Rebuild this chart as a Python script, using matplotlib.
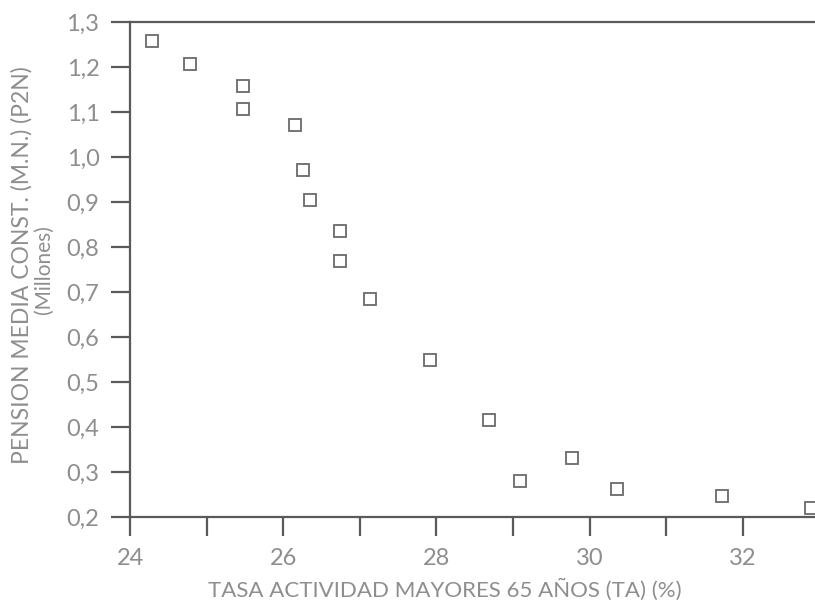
import matplotlib.pyplot as plt
from matplotlib.ticker import FixedLocator, FuncFormatter

# datos
tasaActividad = [24.29, 24.78, 25.47, 25.47, 26.15, 26.26, 26.35, 26.74, 26.74,
                 27.13, 27.92, 28.69, 29.09, 29.77, 30.36, 31.73, 32.89]
pensionMedia = [1.258, 1.207, 1.158, 1.107, 1.071, 0.971, 0.904, 0.836, 0.769,
                0.684, 0.549, 0.416, 0.280, 0.331, 0.262, 0.247, 0.220]

xTicks = [24, 26, 28, 30, 32]
xMinor = [25, 27, 29, 31]
yTicks = [0.2, 0.3, 0.4, 0.5, 0.6, 0.7, 0.8, 0.9, 1.0, 1.1, 1.2, 1.3]

lineColor = "#5a5a5a"
textColor = "#8e8e8e"
plt.rcParams['font.family'] = ['Lato', 'DejaVu Sans']

fig = plt.figure(figsize=(8.15, 6.08), dpi=100)
ax = fig.add_axes([130 / 815, 1 - 517 / 608, 1 - 130 / 815, (517 - 22) / 608])

ax.plot(tasaActividad, pensionMedia, linestyle="none", marker="s", markersize=9,
        markerfacecolor="white", markeredgecolor="#6a6a6a", markeredgewidth=1.3,
        clip_on=False)

ax.set_xlim(24, 32.94)
ax.set_ylim(0.2, 1.3)

for side in ["left", "bottom", "top"]:
    ax.spines[side].set_color(lineColor)
    ax.spines[side].set_linewidth(1.6)
ax.spines["right"].set_visible(False)

ax.xaxis.set_major_locator(FixedLocator(xTicks))
ax.xaxis.set_minor_locator(FixedLocator(xMinor))
ax.yaxis.set_major_locator(FixedLocator(yTicks))
ax.yaxis.set_major_formatter(FuncFormatter(lambda v, p: f"{v:.1f}".replace(".", ",")))

ax.tick_params(axis="both", which="both", direction="out", length=14, width=1.6,
               color=lineColor, labelcolor=textColor, labelsize=17, pad=8)
ax.tick_params(axis="x", which="minor", labelbottom=False)

fig.text(445 / 815, 1 - 590 / 608, "TASA ACTIVIDAD MAYORES 65 AÑOS (TA) (%)",
         ha="center", va="center", fontsize=16, color=textColor)
fig.text(22 / 815, 1 - 265 / 608, "PENSION MEDIA CONST. (M.N.) (P2N)", rotation=90,
         ha="center", va="center", fontsize=16.5, color=textColor)
fig.text(44 / 815, 1 - 270 / 608, "(Millones)", rotation=90,
         ha="center", va="center", fontsize=15, color=textColor)

fig.savefig("out.png", dpi=100, facecolor="white")
